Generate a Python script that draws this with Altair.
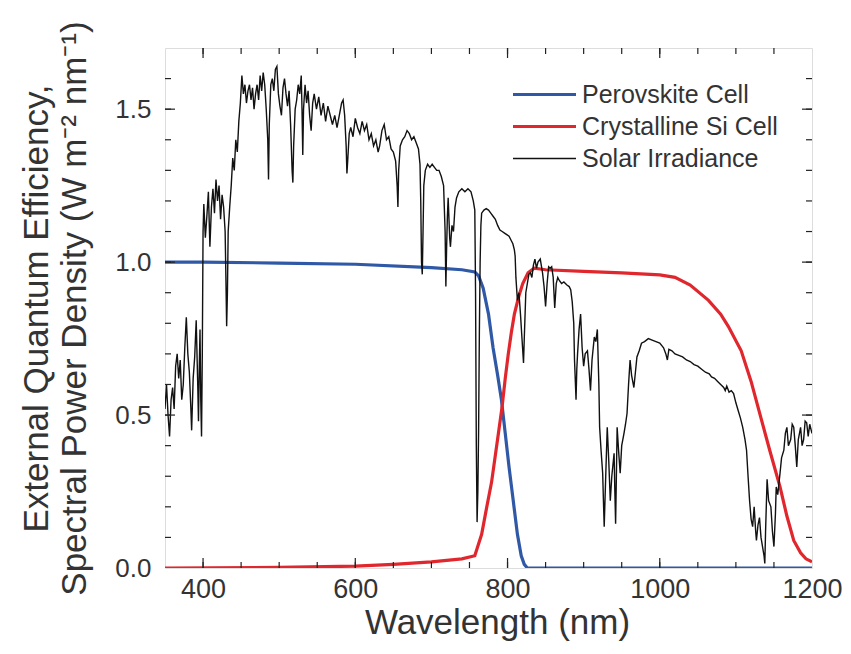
import altair as alt
import pandas as pd

# ---------------- data ----------------
series_names = ["Perovskite Cell", "Crystalline Si Cell", "Solar Irradiance"]
series_colors = ["#2f58a6", "#e0272d", "#111111"]

perov_wl = [350, 400, 500, 600, 700, 740, 757, 762, 768, 775, 781, 787, 792, 797,
            802, 807, 813, 818, 822, 826, 830, 900, 1000, 1100, 1200]
perov_val = [1.0, 1.0, 0.997, 0.993, 0.982, 0.975, 0.968, 0.955, 0.915, 0.83, 0.72,
             0.63, 0.55, 0.44, 0.33, 0.23, 0.11, 0.04, 0.012, 0.0, 0.0, 0.0, 0.0, 0.0, 0.0]

si_wl = [350, 500, 600, 650, 700, 740, 757, 766, 772, 779, 788, 793, 797, 801, 805,
         809, 815, 820, 827, 835, 850, 900, 950, 1000, 1020, 1040, 1064, 1080, 1090,
         1107, 1120, 1133, 1145, 1158, 1167, 1176, 1185, 1192, 1200]
si_val = [0.0, 0.002, 0.006, 0.012, 0.02, 0.03, 0.04, 0.11, 0.19, 0.28, 0.44, 0.53,
          0.62, 0.70, 0.77, 0.83, 0.89, 0.93, 0.965, 0.98, 0.975, 0.97, 0.965, 0.958,
          0.95, 0.925, 0.875, 0.83, 0.79, 0.71, 0.61, 0.49, 0.38, 0.265, 0.17, 0.09,
          0.05, 0.03, 0.02]

solar_wl = [350, 352, 354, 356, 358, 360, 362, 364, 366, 368, 370, 372, 374, 376, 378,
            380, 382, 384, 385, 387, 389, 391, 393, 394, 395, 396, 397, 398, 399, 400,
            401, 403, 405, 407, 409, 411, 413, 415, 417, 419, 421, 423, 425, 427, 429,
            430, 431, 432, 433, 435, 437, 439, 441, 443, 445, 447, 449, 451, 453, 455,
            457, 459, 461, 463, 465, 467, 469, 471, 473, 475, 477, 479, 481, 483, 485,
            486, 487, 489, 491, 493, 495, 497, 499, 501, 503, 505, 507, 509, 511, 513,
            515, 517, 518, 519, 521, 523, 525, 527, 529, 530, 531, 532, 534, 536, 538,
            540, 542, 544, 546, 549, 552, 555, 558, 561, 564, 567, 570, 573, 576, 579,
            582, 584, 586, 588, 589, 590, 592, 594, 597, 600, 603, 606, 609, 612, 615,
            618, 621, 624, 627, 630, 632, 635, 638, 641, 644, 647, 650, 653, 655, 656,
            657, 659, 662, 665, 668, 671, 674, 677, 680, 683, 685, 686, 687, 688, 689,
            690, 692, 695, 698, 701, 704, 707, 710, 713, 716, 718, 719, 720, 721, 722,
            724, 725, 727, 729, 731, 733, 736, 740, 744, 748, 752, 755, 757, 758, 759,
            760, 761, 762, 763, 764, 765, 766, 769, 772, 775, 778, 781, 784, 787, 790,
            793, 796, 799, 802, 805, 807, 809, 810, 811, 813, 815, 817, 819, 821, 822,
            824, 826, 828, 830, 832, 834, 836, 838, 840, 843, 846, 848, 850, 852, 854,
            856, 858, 860, 862, 864, 866, 868, 871, 874, 878, 881, 883, 885, 887, 888,
            890, 891, 892, 894, 896, 898, 900, 902, 905, 907, 909, 911, 914, 916, 918,
            920, 921, 923, 925, 926, 927, 929, 931, 933, 935, 937, 940, 941, 942, 943,
            944, 946, 948, 950, 953, 955, 957, 959, 961, 963, 966, 968, 970, 973, 976,
            980, 985, 990, 995, 1000, 1005, 1008, 1010, 1012, 1016, 1020, 1025, 1030, 1035,
            1040, 1045, 1050, 1055, 1060, 1065, 1068, 1072, 1076, 1080, 1084, 1086, 1088,
            1091, 1094, 1097, 1100, 1103, 1106, 1109, 1112, 1114, 1116, 1118, 1120, 1122,
            1124, 1126, 1127, 1129, 1131, 1133, 1135, 1137, 1138, 1139, 1141, 1143, 1146,
            1148, 1150, 1152, 1153, 1155, 1158, 1160, 1163, 1165, 1167, 1169, 1172, 1174,
            1176, 1178, 1180, 1182, 1185, 1187, 1189, 1191, 1193, 1195, 1197, 1200]
solar_val = [0.52, 0.60, 0.50, 0.43, 0.55, 0.59, 0.52, 0.66, 0.70, 0.62, 0.68, 0.55, 0.60, 0.72, 0.82,
             0.70, 0.64, 0.52, 0.45, 0.62, 0.69, 0.81, 0.60, 0.48, 0.65, 0.78, 0.55, 0.43, 0.70, 1.10,
             1.19, 1.08, 1.15, 1.23, 1.05, 1.18, 1.24, 1.16, 1.27, 1.20, 1.25, 1.14, 1.22, 1.18, 1.10,
             0.95, 0.79, 0.90, 1.10, 1.18, 1.25, 1.34, 1.30, 1.40, 1.36, 1.46, 1.52, 1.61, 1.55, 1.58,
             1.52, 1.56, 1.58, 1.53, 1.57, 1.50, 1.55, 1.58, 1.53, 1.61, 1.56, 1.62, 1.58, 1.50, 1.40,
             1.27, 1.45, 1.58, 1.60, 1.56, 1.63, 1.64, 1.55, 1.51, 1.48, 1.57, 1.60, 1.55, 1.51, 1.56,
             1.45, 1.30, 1.26, 1.38, 1.50, 1.53, 1.58, 1.55, 1.61, 1.50, 1.35, 1.50, 1.58, 1.52, 1.56,
             1.48, 1.43, 1.52, 1.55, 1.50, 1.54, 1.48, 1.52, 1.46, 1.51, 1.48, 1.45, 1.48, 1.44, 1.48,
             1.52, 1.53, 1.48, 1.38, 1.29, 1.33, 1.42, 1.44, 1.41, 1.47, 1.44, 1.42, 1.46, 1.43, 1.45,
             1.40, 1.42, 1.38, 1.40, 1.36, 1.38, 1.43, 1.45, 1.40, 1.41, 1.37, 1.36, 1.33, 1.25, 1.18,
             1.30, 1.38, 1.40, 1.41, 1.43, 1.42, 1.40, 1.41, 1.39, 1.37, 1.32, 1.20, 1.00, 0.96, 1.10,
             1.25, 1.30, 1.32, 1.31, 1.32, 1.31, 1.30, 1.30, 1.28, 1.25, 1.10, 0.92, 1.05, 1.15, 1.21,
             1.08, 1.05, 1.12, 1.10, 1.18, 1.21, 1.23, 1.24, 1.23, 1.24, 1.23, 1.20, 1.17, 0.90, 0.40,
             0.15, 0.25, 0.45, 0.77, 1.00, 1.12, 1.16, 1.17, 1.175, 1.17, 1.16, 1.15, 1.14, 1.12, 1.105,
             1.10, 1.095, 1.09, 1.085, 1.07, 1.06, 1.04, 1.02, 0.95, 0.875, 0.90, 0.83, 0.75, 0.67, 0.75,
             0.90, 0.93, 0.96, 0.965, 0.95, 0.99, 1.01, 0.98, 1.00, 1.01, 0.965, 0.92, 0.855, 0.93, 0.985,
             0.98, 0.985, 0.95, 0.85, 0.93, 0.95, 0.94, 0.93, 0.935, 0.925, 0.92, 0.91, 0.87, 0.80, 0.68,
             0.55, 0.65, 0.70, 0.78, 0.83, 0.72, 0.66, 0.70, 0.71, 0.65, 0.58, 0.68, 0.755, 0.74, 0.78,
             0.60, 0.46, 0.38, 0.31, 0.22, 0.135, 0.30, 0.46, 0.35, 0.22, 0.30, 0.375, 0.25, 0.145, 0.30,
             0.46, 0.38, 0.31, 0.40, 0.44, 0.47, 0.505, 0.60, 0.68, 0.63, 0.59, 0.64, 0.69, 0.71, 0.735,
             0.74, 0.75, 0.745, 0.74, 0.735, 0.72, 0.70, 0.68, 0.715, 0.71, 0.70, 0.695, 0.69, 0.68,
             0.675, 0.665, 0.66, 0.65, 0.64, 0.635, 0.625, 0.62, 0.61, 0.60, 0.59, 0.58, 0.595,
             0.575, 0.58, 0.57, 0.54, 0.515, 0.49, 0.46, 0.42, 0.385, 0.30, 0.22, 0.16, 0.135,
             0.20, 0.12, 0.09, 0.14, 0.165, 0.10, 0.07, 0.04, 0.015, 0.12, 0.29, 0.22, 0.20,
             0.12, 0.07, 0.18, 0.265, 0.24, 0.31, 0.36, 0.385, 0.44, 0.46, 0.40, 0.42, 0.47,
             0.46, 0.40, 0.33, 0.42, 0.46, 0.40, 0.42, 0.48, 0.475, 0.43, 0.47, 0.44]

x_ticks_minor = [400, 450, 500, 550, 600, 650, 700, 750, 800, 850, 900, 950, 1000, 1050, 1100, 1150]
x_ticks_major = [400, 600, 800, 1000]
y_ticks_minor = [0.1, 0.2, 0.3, 0.4, 0.5, 0.6, 0.7, 0.8, 0.9, 1.0, 1.1, 1.2, 1.3, 1.4, 1.5, 1.6]
y_ticks_major = [0.5, 1.0, 1.5]
x_labels = [400, 600, 800, 1000, 1200]
y_labels = [0.0, 0.5, 1.0, 1.5]

# ---------------- build tables ----------------
rows = []
for name, wl, val in [(series_names[0], perov_wl, perov_val),
                      (series_names[1], si_wl, si_val)]:
    for w, v in zip(wl, val):
        rows.append({"wl": w, "val": v, "series": name})
df_eqe = pd.DataFrame(rows)
df_sun = pd.DataFrame({"wl": solar_wl, "val": solar_val, "series": series_names[2]})

W, H = 647, 520
FONT = "Liberation Sans"
TXT = "#333333"
xscale = alt.Scale(domain=[350, 1200], nice=False, zero=False)
yscale = alt.Scale(domain=[0, 1.7], nice=False, zero=True)
cscale = alt.Scale(domain=series_names, range=series_colors)

xaxis = alt.Axis(values=x_labels, format="d", ticks=False, domain=False, grid=False,
                 labelFlush=False, orient="bottom",
                 labelPadding=8, labelFontSize=27, labelFont=FONT, labelColor=TXT,
                 title="Wavelength (nm)", titleFontSize=35, titleFont=FONT,
                 titleFontWeight="normal", titleColor=TXT, titlePadding=3, titleX=332)
yaxis = alt.Axis(values=y_labels, format=".1f", ticks=False, domain=False, grid=False,
                 labelFlush=False, orient="left",
                 labelPadding=14, labelFontSize=26, labelFont=FONT, labelColor=TXT,
                 title=["External Quantum Efficiency,",
                        "Spectral Power Density (W m\u207b\u00b2 nm\u207b\u00b9)"],
                 titleFontSize=35, titleFont=FONT, titleFontWeight="normal",
                 titleColor=TXT, titlePadding=22, titleLineHeight=38)

leg = alt.Legend(title=None, orient="none", legendX=367, legendY=34,
                 symbolType="M-3,0H3", symbolSize=441, labelLimit=400,
                 symbolStrokeWidth={"expr": "datum.value == 'Solar Irradiance' ? 1.4 : 3.2"},
                 labelFontSize=25, labelFont=FONT, labelColor=TXT,
                 labelOffset=25, rowPadding=6, padding=0)

TK = "#222222"

def xtick_layer(vals, y0, y1):
    d = pd.DataFrame({"t": vals})
    return alt.Chart(d).mark_rule(color=TK, strokeWidth=1.2).encode(
        x=alt.X("t:Q", scale=xscale, axis=None),
        y=alt.value(y0), y2=alt.value(y1))

def ytick_layer(vals, x0, x1):
    d = pd.DataFrame({"t": vals})
    return alt.Chart(d).mark_rule(color=TK, strokeWidth=1.2).encode(
        y=alt.Y("t:Q", scale=yscale, axis=None),
        x=alt.value(x0), x2=alt.value(x1))

MAJ, MIN = 10, 6
ticks = [
    xtick_layer(x_ticks_minor, H, H - MIN),
    xtick_layer(x_ticks_major, H, H - MAJ),
    xtick_layer(x_ticks_minor, 0, MIN),
    xtick_layer(x_ticks_major, 0, MAJ),
    ytick_layer(y_ticks_minor, 0, MIN),
    ytick_layer(y_ticks_major, 0, MAJ),
    ytick_layer(y_ticks_minor, W, W - MIN),
    ytick_layer(y_ticks_major, W, W - MAJ),
]

eqe = alt.Chart(df_eqe).mark_line(clip=True, strokeWidth=3.2).encode(
    x=alt.X("wl:Q", scale=xscale, axis=xaxis),
    y=alt.Y("val:Q", scale=yscale, axis=yaxis),
    color=alt.Color("series:N", scale=cscale, legend=leg),
    order=alt.Order("wl:Q"),
)
sun = alt.Chart(df_sun).mark_line(clip=True, strokeWidth=1.4).encode(
    x=alt.X("wl:Q", scale=xscale, axis=None),
    y=alt.Y("val:Q", scale=yscale, axis=None),
    color=alt.Color("series:N", scale=cscale, legend=leg),
    order=alt.Order("wl:Q"),
)

chart = alt.layer(eqe, sun, *ticks).resolve_axis(
    x="independent", y="independent"
).properties(
    width=W, height=H,
    padding={"left": 157, "top": 40, "right": 31, "bottom": 78},
    autosize=alt.AutoSizeParams(type="none"),
).configure_view(stroke="#333333", strokeWidth=1.5).configure(background="white")

chart.save("out.html", embed_options={"renderer": "svg", "actions": False})
